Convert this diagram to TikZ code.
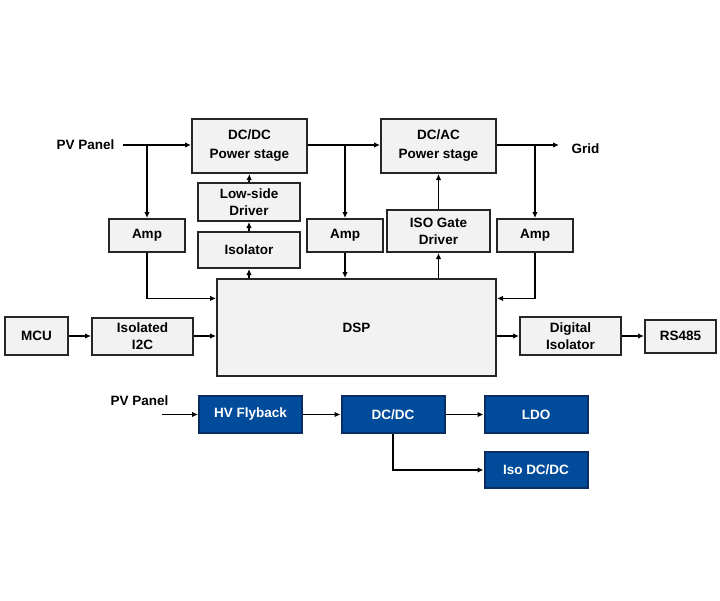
\documentclass[tikz,border=0pt]{standalone}
\usepackage{fontspec}
\setmainfont{Liberation Sans}
\usetikzlibrary{arrows.meta,calc}
\definecolor{boxgray}{RGB}{242,242,242}
\definecolor{tiblue}{RGB}{0,76,155}
\definecolor{tiedge}{RGB}{10,45,100}
\begin{document}
\begin{tikzpicture}[x=1pt,y=-1pt,
	font=\fontsize{13.5}{17}\selectfont\bfseries,
	block/.style={ draw=black!85, line width=2pt, fill=boxgray, align=center, inner sep=0pt },
	blockb/.style={ draw=tiedge, line width=2pt, fill=tiblue, text=white, inner sep=0pt, minimum width=103pt, minimum height=37pt },
	arr/.style={ line width=1.6pt, -{Latex[length=6pt,width=5.5pt]} },
	wire/.style={ line width=1.6pt }
]
\useasboundingbox (0,0) rectangle (720,600);

% power path
\node[block, minimum width=115pt, minimum height=54pt] at (249.5,146) (dcdc) {DC/DC\\[2pt]Power stage};
\node[block, minimum width=115pt, minimum height=54pt] at (438.5,146) (dcac) {DC/AC\\[2pt]Power stage};
\node[block, minimum width=102pt, minimum height=38pt] at (249,202) (lsd) {Low-side\\Driver};
\node[block, minimum width=102pt, minimum height=36pt] at (249,250) (iso) {Isolator};
\node[block, minimum width=103pt, minimum height=42pt] at (438.5,231) (isog) {ISO Gate\\Driver};
\node[block, minimum width=76pt, minimum height=33pt] at (147,235.5) (amp1) {Amp};
\node[block, minimum width=76pt, minimum height=33pt] at (345,235.5) (amp2) {Amp};
\node[block, minimum width=76pt, minimum height=33pt] at (535,235.5) (amp3) {Amp};
\node[block, minimum width=279pt, minimum height=97pt] at (356.5,327.5) (dsp) {DSP};
\node[block, minimum width=63pt, minimum height=38pt] at (36.5,336) (mcu) {MCU};
\node[block, minimum width=101pt, minimum height=37pt] at (142.5,336) (i2c) {Isolated\\I2C};
\node[block, minimum width=101pt, minimum height=38pt] at (570.5,336) (digiso) {Digital\\Isolator};
\node[block, minimum width=71pt, minimum height=33pt] at (680.5,336) (rs485) {RS485};

\node[anchor=east] at (118,145) (pv) {PV Panel};
\coordinate (pvin) at (123,145);
\node[anchor=west] at (568,149) (grid) {Grid};
\coordinate (gridout) at (559,145);

\draw[arr] (pvin) -- (pvin -| dcdc.west);
\draw[arr] (pvin -| amp1) -- (amp1.north);
\draw[arr] (dcdc.east |- pvin) -- (dcac.west |- pvin);
\draw[arr] (pvin -| amp2) -- (amp2.north);
\draw[arr] (dcac.east |- pvin) -- (gridout);
\draw[arr] (pvin -| amp3) -- (amp3.north);
\draw[arr] (lsd.north) -- (dcdc.south);
\draw[arr] (iso.north) -- (lsd.south);
\draw[arr] (dsp.north -| iso) -- (iso.south);
\draw[arr] (dsp.north -| isog) -- (isog.south);
\draw[arr] (isog.north) -- (dcac.south);
\draw[arr] (amp2.south) -- (amp2.south |- dsp.north);
\draw[arr] (amp1.south) |- ($(dsp.north west)!0.206!(dsp.south west)$);
\draw[arr] (amp3.south) |- ($(dsp.north east)!0.206!(dsp.south east)$);
\draw[arr] (mcu.east) -- (i2c.west);
\draw[arr] (i2c.east) -- (i2c.east -| dsp.west);
\draw[arr] (digiso.west -| dsp.east) -- (digiso.west);
\draw[arr] (digiso.east) -- (rs485.west);

% auxiliary supply
\node[blockb] at (250.5,414.5) (fly) {HV Flyback};
\node[blockb] at (393,414.5) (dcdcb) {DC/DC};
\node[blockb] at (536,414.5) (ldo) {LDO};
\node[blockb, minimum height=36pt] at (536,470) (isodc) {Iso DC/DC};
\node at (139.5,401) (pvb) {PV Panel};
\coordinate (pvbin) at (162,414.5);

\draw[arr] (pvbin) -- (fly.west);
\draw[arr] (fly.east) -- (dcdcb.west);
\draw[arr] (dcdcb.east) -- (ldo.west);
\draw[arr] (dcdcb.south) |- (isodc.west);

\end{tikzpicture}
\end{document}
